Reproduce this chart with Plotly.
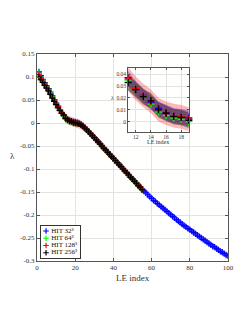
import plotly.graph_objects as go
import numpy as np

# ---------------- data ----------------
le_index_32 = list(range(1, 101))
le_index_hi = list(range(1, 56))

lam_32 = [0.111, 0.103, 0.095, 0.088, 0.081, 0.075, 0.067, 0.059, 0.051, 0.043,
          0.037, 0.028, 0.022, 0.016, 0.011, 0.0075, 0.005, 0.004, 0.003, 0.002,
          0.001, -0.001, -0.003, -0.006, -0.010, -0.014, -0.018, -0.022, -0.027, -0.031,
          -0.036, -0.040, -0.045, -0.050, -0.054, -0.059, -0.063, -0.068, -0.072, -0.077,
          -0.081, -0.086, -0.090, -0.095, -0.099, -0.104, -0.108, -0.113, -0.117, -0.122,
          -0.126, -0.130, -0.135, -0.139, -0.144, -0.148, -0.152, -0.156, -0.160, -0.164,
          -0.168, -0.171, -0.175, -0.178, -0.182, -0.185, -0.189, -0.192, -0.196, -0.199,
          -0.203, -0.206, -0.210, -0.213, -0.216, -0.220, -0.223, -0.226, -0.229, -0.232,
          -0.235, -0.238, -0.241, -0.244, -0.247, -0.250, -0.253, -0.256, -0.259, -0.262,
          -0.265, -0.268, -0.270, -0.273, -0.276, -0.279, -0.281, -0.284, -0.287, -0.289]

lam_64 = [0.108, 0.100, 0.093, 0.086, 0.079, 0.073, 0.065, 0.057, 0.049, 0.041,
          0.035, 0.028, 0.021, 0.0147, 0.008, 0.005, 0.003, 0.002, 0.000, 0.000,
          -0.001, -0.002, -0.004, -0.007, -0.011, -0.015, -0.019, -0.023, -0.028, -0.032,
          -0.037, -0.041, -0.046, -0.050, -0.055, -0.059, -0.064, -0.068, -0.073, -0.077,
          -0.082, -0.086, -0.091, -0.095, -0.100, -0.104, -0.109, -0.113, -0.118, -0.122,
          -0.127, -0.131, -0.135, -0.140, -0.144]

lam_128 = [0.105, 0.098, 0.091, 0.085, 0.078, 0.072, 0.064, 0.056, 0.048, 0.041,
           0.036, 0.028, 0.022, 0.017, 0.010, 0.007, 0.005, 0.004, 0.002, 0.001,
           0.000, -0.002, -0.004, -0.007, -0.010, -0.014, -0.019, -0.023, -0.027, -0.032,
           -0.036, -0.041, -0.045, -0.050, -0.054, -0.059, -0.063, -0.068, -0.072, -0.077,
           -0.081, -0.086, -0.090, -0.095, -0.099, -0.104, -0.108, -0.113, -0.117, -0.122,
           -0.126, -0.131, -0.135, -0.139, -0.144]

lam_256 = [0.100, 0.094, 0.088, 0.082, 0.076, 0.070, 0.062, 0.054, 0.047, 0.040,
           0.033, 0.027, 0.021, 0.0175, 0.0099, 0.007, 0.0042, 0.0034, 0.001, 0.000,
           -0.001, -0.002, -0.004, -0.007, -0.011, -0.015, -0.019, -0.023, -0.028, -0.032,
           -0.037, -0.041, -0.046, -0.050, -0.055, -0.059, -0.064, -0.068, -0.073, -0.077,
           -0.082, -0.086, -0.091, -0.095, -0.100, -0.104, -0.109, -0.113, -0.118, -0.122,
           -0.127, -0.131, -0.136, -0.140, -0.145]

# spread (half-width of the shaded bands)
spread_32 = [0.006, 0.006, 0.006, 0.006, 0.006, 0.006, 0.006, 0.006, 0.006, 0.006,
             0.006, 0.006, 0.006, 0.006, 0.006, 0.0065, 0.0065, 0.0065, 0.0065, 0.0065,
             0.006, 0.006, 0.006, 0.006, 0.006, 0.006, 0.006, 0.006, 0.006, 0.006,
             0.006, 0.006, 0.006, 0.006, 0.006, 0.006, 0.006, 0.006, 0.006, 0.006,
             0.006, 0.006, 0.006, 0.006, 0.006, 0.006, 0.006, 0.006, 0.006, 0.006,
             0.006, 0.006, 0.006, 0.006, 0.006, 0.006, 0.006, 0.006, 0.006, 0.006,
             0.006, 0.006, 0.006, 0.006, 0.006, 0.006, 0.006, 0.006, 0.006, 0.006,
             0.006, 0.006, 0.006, 0.006, 0.006, 0.006, 0.006, 0.006, 0.006, 0.006,
             0.006, 0.006, 0.006, 0.006, 0.006, 0.006, 0.006, 0.006, 0.006, 0.006,
             0.006, 0.006, 0.006, 0.006, 0.006, 0.006, 0.006, 0.006, 0.006, 0.006]

spread_128 = [0.011, 0.011, 0.011, 0.010, 0.010, 0.010, 0.010, 0.010, 0.010, 0.010,
              0.010, 0.010, 0.010, 0.010, 0.010, 0.010, 0.010, 0.010, 0.010, 0.010,
              0.010, 0.010, 0.010, 0.010, 0.009, 0.009, 0.009, 0.009, 0.009, 0.009,
              0.009, 0.009, 0.009, 0.009, 0.009, 0.009, 0.009, 0.009, 0.009, 0.009,
              0.009, 0.009, 0.009, 0.009, 0.009, 0.009, 0.009, 0.009, 0.009, 0.009,
              0.009, 0.009, 0.009, 0.009, 0.009]

spread_256 = [0.007, 0.007, 0.0065, 0.0065, 0.0065, 0.0065, 0.0065, 0.0065, 0.0065, 0.0065,
              0.0065, 0.0065, 0.0065, 0.0065, 0.0065, 0.0065, 0.0065, 0.0065, 0.0065, 0.0065,
              0.006, 0.006, 0.006, 0.006, 0.006, 0.006, 0.006, 0.006, 0.006, 0.006,
              0.006, 0.006, 0.006, 0.006, 0.006, 0.006, 0.006, 0.006, 0.006, 0.006,
              0.006, 0.006, 0.006, 0.006, 0.006, 0.006, 0.006, 0.006, 0.006, 0.006,
              0.006, 0.006, 0.006, 0.006, 0.006]

series_names = ["HIT 32³", "HIT 64³", "HIT 128³", "HIT 256³"]
x_ticks = [0, 20, 40, 60, 80, 100]
y_ticks = [0.15, 0.1, 0.05, 0, -0.05, -0.1, -0.15, -0.2, -0.25, -0.3]
y_ticktext = ["0.15", "0.1", "0.05", "0", "-0.05", "-0.1", "-0.15", "-0.2", "-0.25", "-0.3"]
inset_x_ticks = [12, 14, 16, 18]
inset_y_ticks = [0, 0.01, 0.02, 0.03, 0.04]
inset_y_ticktext = ["0", "0.01", "0.02", "0.03", "0.04"]
inset_first, inset_last = 11, 19

# ---------------- style ----------------
FONT = "Liberation Serif"
colors = ["#0000ff", "#00ff00", "#ff0000", "#000000"]
band_fill = {"32": "rgba(60,0,200,0.35)", "128": "rgba(240,0,0,0.28)", "256": "rgba(40,30,30,0.5)"}
FRAME = "#555555"
GRID = "#e3e3e3"

fig = go.Figure()


def add_band(x, y, s, fill, xa, ya):
    y = np.array(y); s = np.array(s)
    fig.add_trace(go.Scatter(x=x, y=list(y + s), mode="lines", line=dict(width=0),
                             showlegend=False, hoverinfo="skip", xaxis=xa, yaxis=ya))
    fig.add_trace(go.Scatter(x=x, y=list(y - s), mode="lines", line=dict(width=0),
                             fill="tonexty", fillcolor=fill, showlegend=False,
                             hoverinfo="skip", xaxis=xa, yaxis=ya))


def add_markers(x, y, c, xa, ya, size, w, clip=True):
    fig.add_trace(go.Scatter(x=x, y=y, mode="markers",
                             marker=dict(symbol="cross-thin", size=size,
                                         line=dict(width=w, color=c)),
                             showlegend=False, cliponaxis=clip, xaxis=xa, yaxis=ya))


all_series = [(le_index_32, lam_32), (le_index_hi, lam_64), (le_index_hi, lam_128), (le_index_hi, lam_256)]

# main panel
add_band(le_index_hi, lam_128, spread_128, band_fill["128"], "x", "y")
add_band(le_index_32, lam_32, spread_32, band_fill["32"], "x", "y")
add_band(le_index_hi, lam_256, spread_256, band_fill["256"], "x", "y")
for (xs, ys), c in zip(all_series, colors):
    add_markers(xs, ys, c, "x", "y", 4.5, 1.2)

# inset panel (LE index 11..19)
a, b = inset_first - 1, inset_last
add_band(le_index_hi[a:b], lam_128[a:b], spread_128[a:b], band_fill["128"], "x2", "y2")
add_band(le_index_32[a:b], lam_32[a:b], spread_32[a:b], band_fill["32"], "x2", "y2")
add_band(le_index_hi[a:b], lam_256[a:b], spread_256[a:b], band_fill["256"], "x2", "y2")
for (xs, ys), c in zip(all_series, colors):
    add_markers(xs[a:b], ys[a:b], c, "x2", "y2", 5, 1.4, clip=False)

# legend drawn in its own small box
leg_rows = [1, 2, 3, 4]
fig.add_trace(go.Scatter(x=[0.14] * 4, y=leg_rows, mode="markers+text",
                         text=[" " + n for n in series_names], textposition="middle right",
                         textfont=dict(family=FONT, size=7, color="#111"),
                         marker=dict(symbol="cross-thin", size=4, color=colors,
                                     line=dict(width=1.2, color=colors)),
                         cliponaxis=False, showlegend=False, xaxis="x3", yaxis="y3"))

axis_common = dict(showline=True, linecolor=FRAME, linewidth=1, mirror="ticks",
                   ticks="inside", tickcolor=FRAME, gridcolor=GRID, gridwidth=1,
                   zeroline=False)

# page body adds an 8 px offset, so the figure is laid out 8 px up/left
fig.update_layout(
    width=252, height=325,
    margin=dict(l=25, r=32, t=46, b=72),
    paper_bgcolor="#ffffff", plot_bgcolor="#fffffe",
    font=dict(family=FONT, color="#333"),
    showlegend=False,
    xaxis=dict(domain=[0, 1], range=[0, 100], tickvals=x_ticks, ticklen=3,
               tickfont=dict(size=7), **axis_common),
    yaxis=dict(domain=[0, 1], range=[-0.3, 0.15], tickvals=y_ticks, ticktext=y_ticktext,
               ticklen=3, tickfont=dict(size=7), **axis_common),
    xaxis2=dict(domain=[0.477, 0.795], anchor="y2", range=[11, 19], tickvals=inset_x_ticks,
                ticklen=2, tickfont=dict(size=5.5), **axis_common),
    yaxis2=dict(domain=[0.625, 0.931], anchor="x2", range=[-0.0085, 0.045],
                tickvals=inset_y_ticks, ticktext=inset_y_ticktext, ticklen=2,
                tickfont=dict(size=5.5), **axis_common),
    xaxis3=dict(domain=[0.0185, 0.224], anchor="y3", range=[0, 1], showgrid=False,
                zeroline=False, showticklabels=False, ticks="", showline=True,
                linecolor="#333", mirror=True),
    yaxis3=dict(domain=[0.0164, 0.169], anchor="x3", range=[4.672, 0.312], showgrid=False,
                zeroline=False, showticklabels=False, ticks="", showline=True,
                linecolor="#333", mirror=True),
    annotations=[
        dict(text="LE index", x=0.5, y=-0.081, xref="paper", yref="paper", showarrow=False,
             font=dict(size=9, color="#333"), xanchor="center", yanchor="middle"),
        dict(text="λ", x=-0.127, y=0.507, xref="paper", yref="paper", showarrow=False,
             font=dict(size=9, color="#333"), xanchor="center", yanchor="middle"),
        dict(text="LE index", x=0.636, y=0.577, xref="paper", yref="paper", showarrow=False,
             font=dict(size=6, color="#333"), xanchor="center", yanchor="middle"),
        dict(text="λ", x=0.395, y=0.787, xref="paper", yref="paper", showarrow=False,
             font=dict(size=6, color="#333"), xanchor="center", yanchor="middle"),
    ],
)

fig.write_html("out.html")
